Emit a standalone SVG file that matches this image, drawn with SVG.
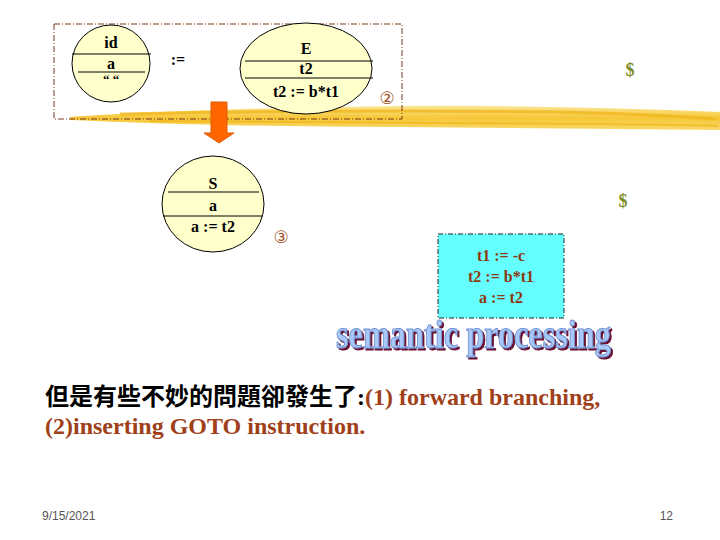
<svg xmlns="http://www.w3.org/2000/svg" width="720" height="540" viewBox="0 0 720 540">
<style>
.lbl{font-family:"Liberation Serif","Times New Roman",serif;font-weight:bold;font-size:16px;text-anchor:middle;fill:#000}
.node{fill:#ffffcc;stroke:#000;stroke-width:1}
.sep{stroke:#000;stroke-width:1}
.num{font-family:"DejaVu Sans",sans-serif;font-size:17px;fill:#a0522d;text-anchor:middle}
.dollar{font-family:"Liberation Serif",serif;font-weight:bold;font-size:18px;fill:#7b8b25;text-anchor:middle}
.code{font-family:"Liberation Serif",serif;font-weight:bold;font-size:16px;fill:#8b3a12;text-anchor:middle}
.body{font-family:"Liberation Serif","Noto Sans CJK TC",serif;font-weight:bold;font-size:24px}
.foot{font-family:"Liberation Sans Narrow","Liberation Sans",sans-serif;font-size:12px;fill:#555}
</style>
<defs>
<linearGradient id="band" x1="0" y1="0" x2="0" y2="1">
<stop offset="0" stop-color="#fbe38a"/>
<stop offset="0.5" stop-color="#f5c020"/>
<stop offset="1" stop-color="#f7d45a"/>
</linearGradient>
<filter id="shadow" x="-5%" y="-20%" width="110%" height="140%">
<feFlood flood-color="#6b1030" result="c"/>
<feComposite in="c" in2="SourceAlpha" operator="in" result="s"/>
<feOffset in="s" dx="2" dy="2" result="o"/>
<feMerge><feMergeNode in="o"/><feMergeNode in="SourceGraphic"/></feMerge>
</filter>
</defs>
<rect width="720" height="540" fill="#fff"/>
<g id="brush">
<path d="M70,117 C150,111 260,108 400,106 C500,105 620,108 720,112 L720,130 C620,129 500,128 400,127 C280,127 160,124 70,120 Z" fill="url(#band)" opacity="0.9"/>
<path d="M120,114 C250,111 400,110 560,112 C640,114 690,117 716,119" fill="none" stroke="#f0b418" stroke-width="3" opacity="0.7"/>
<path d="M150,121 C300,122 450,123 600,124 C660,125 700,125 718,126" fill="none" stroke="#eeb010" stroke-width="2" opacity="0.6"/>
</g>
<rect id="frame" x="54" y="24" width="348" height="95" fill="none" stroke="#7a3a1a" stroke-width="1" stroke-dasharray="6 2 1 2"/>
<g id="node-id">
<ellipse class="node" cx="111" cy="63.5" rx="39" ry="38.5"/>
<line class="sep" x1="72" y1="54" x2="151" y2="54"/>
<line class="sep" x1="78" y1="72" x2="145" y2="72"/>
<text class="lbl" x="111" y="48">id</text>
<text class="lbl" x="111" y="69">a</text>
<text class="lbl" x="111" y="84" style="font-size:13px">“ “</text>
</g>
<text id="assign" class="lbl" x="178" y="65">:=</text>
<g id="node-E">
<ellipse class="node" cx="306" cy="68.5" rx="66" ry="45.5"/>
<line class="sep" x1="245" y1="61" x2="373" y2="61"/>
<line class="sep" x1="245" y1="78" x2="373" y2="78"/>
<text class="lbl" x="306" y="54">E</text>
<text class="lbl" x="306" y="74">t2</text>
<text class="lbl" x="306" y="97">t2 := b*t1</text>
</g>
<text class="num" x="387" y="104">②</text>
<text class="dollar" x="630" y="76">$</text>
<g id="connectors">
<path d="M211,102 H227 V133 H234 L219,143 L204,133 H211 Z" fill="#ff6600" stroke="#e05a00" stroke-width="1"/>
</g>
<g id="node-S">
<ellipse class="node" cx="213" cy="204" rx="51" ry="48"/>
<line class="sep" x1="168" y1="192" x2="259" y2="192"/>
<line class="sep" x1="163" y1="216" x2="263" y2="216"/>
<text class="lbl" x="213" y="189">S</text>
<text class="lbl" x="213" y="211">a</text>
<text class="lbl" x="213" y="232">a := t2</text>
</g>
<text class="num" x="281" y="243">③</text>
<text class="dollar" x="623" y="207">$</text>
<g id="node-code">
<rect x="438" y="234" width="126" height="84" fill="#66ffff" stroke="#222" stroke-width="1" stroke-dasharray="5 2 1 2"/>
<text class="code" x="501" y="261">t1 := -c</text>
<text class="code" x="501" y="282">t2 := b*t1</text>
<text class="code" x="501" y="303">a := t2</text>
</g>
<g id="wordart" font-family="Liberation Serif,serif" font-weight="bold" font-size="34" filter="url(#shadow)">
<g transform="translate(0,348) scale(1,1.15)">
<text x="336" y="0" textLength="275" lengthAdjust="spacingAndGlyphs" fill="#a8c8f8" stroke="#7090d0" stroke-width="0.8">semantic processing</text>
</g>
</g>
<text class="body" x="45" y="405"><tspan fill="#000">但是有些不妙的問題卻發生了:</tspan><tspan fill="#a0401a">(1) forward branching,</tspan></text>
<text class="body" x="45" y="434" fill="#a0401a">(2)inserting GOTO instruction.</text>
<text class="foot" x="42" y="520">9/15/2021</text>
<text class="foot" x="673" y="520" text-anchor="end">12</text>
</svg>
